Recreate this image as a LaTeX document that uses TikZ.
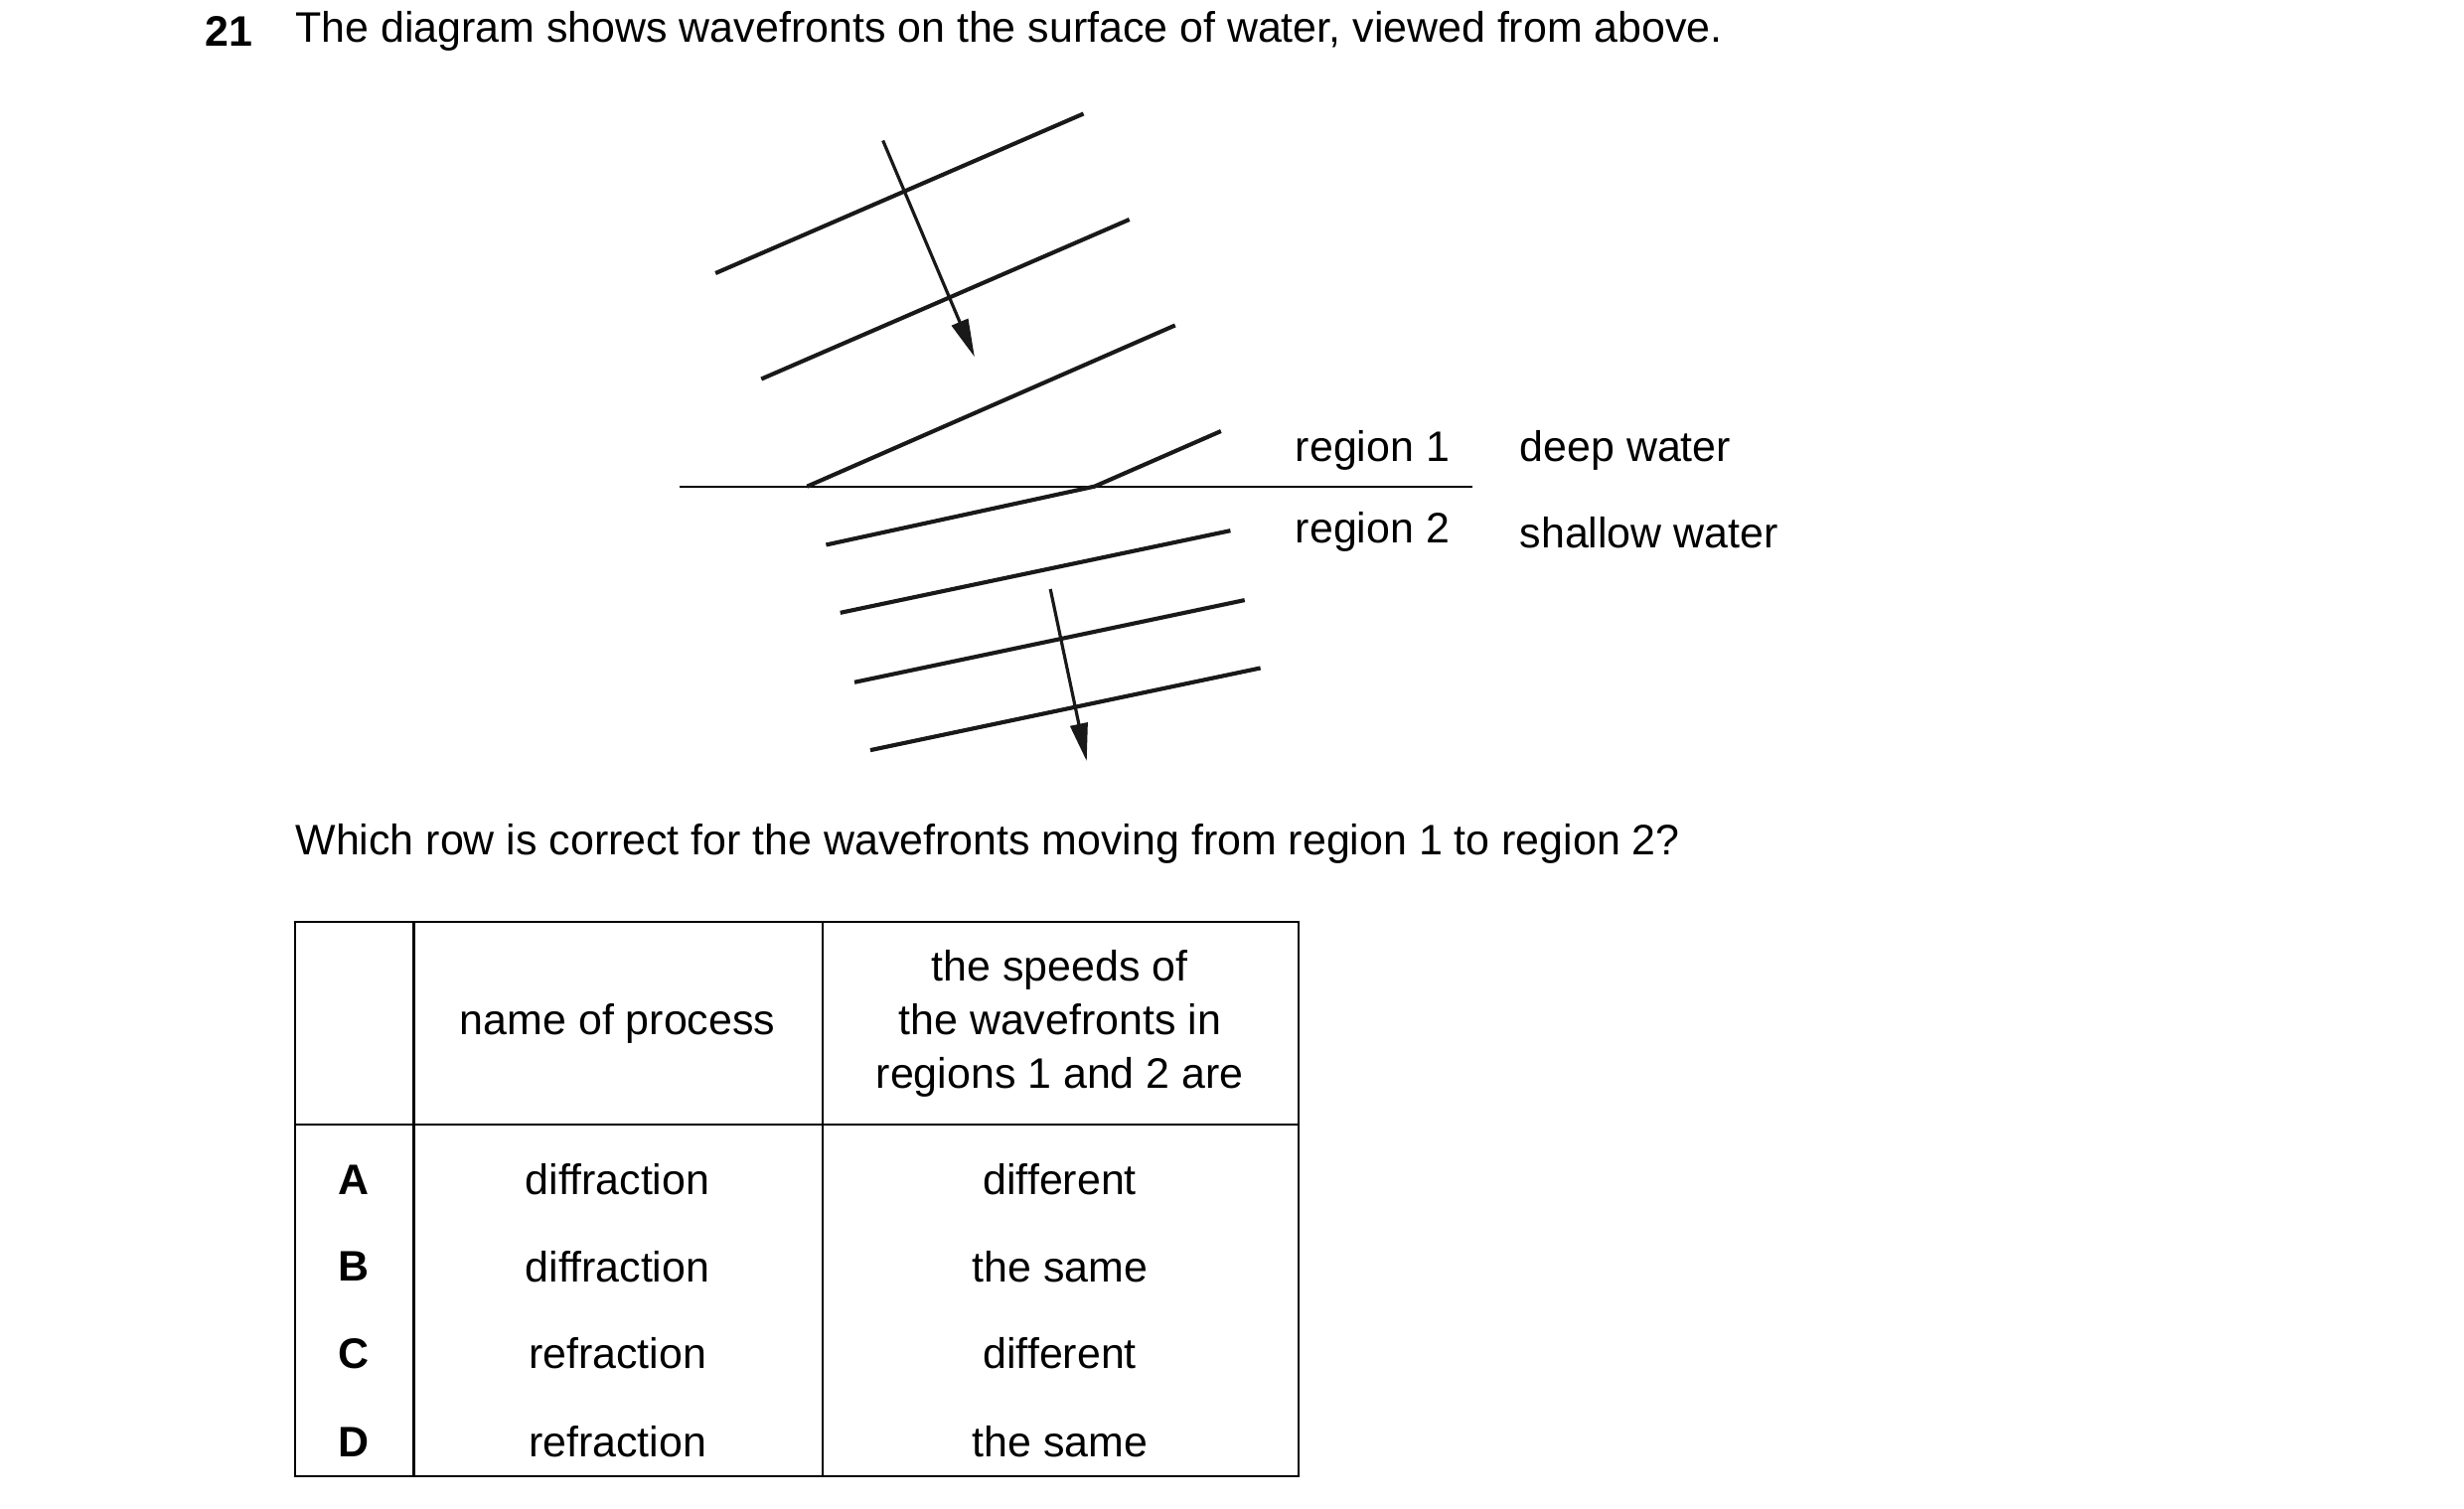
\documentclass[tikz,border=0pt]{standalone}
\usepackage{fontspec}
\setmainfont{Liberation Sans}
\usetikzlibrary{arrows.meta}
\begin{document}
\begin{tikzpicture}[x=1pt,y=-1pt,
  wave/.style={line width=2.6pt,black!90},
  ray/.style={line width=2pt,black!90,-{Triangle[length=24pt,width=11pt]}},
  txt/.style={font=\fontsize{27}{32}\selectfont,inner sep=0pt},
  tb/.style={line width=1.3pt}]
\useasboundingbox (0,0) rectangle (1560,955);
\node[txt,anchor=west,font=\fontsize{27}{32}\selectfont\bfseries] (n) at (130,20) {21};
\node[txt,anchor=west] (t) at (187,20) {The diagram shows wavefronts on the surface of water, viewed from above.};
% wavefronts
\coordinate (a1) at (453,173); \coordinate (b1) at (686,72);
\coordinate (a2) at (482,240); \coordinate (b2) at (715,139);
\coordinate (a3) at (511,308); \coordinate (b3) at (744,206);
\coordinate (k) at (693,308); \coordinate (b4) at (773,273); \coordinate (a4) at (523,345);
\coordinate (a5) at (532,388); \coordinate (b5) at (779,336);
\coordinate (a6) at (541,432); \coordinate (b6) at (788,380);
\coordinate (a7) at (551,475); \coordinate (b7) at (798,423);
\coordinate (l) at (430,308); \coordinate (r) at (932,308);
\draw[line width=1.3pt] (l) -- (r);
\draw[wave] (a1)--(b1); \draw[wave] (a2)--(b2); \draw[wave] (a3)--(b3);
\draw[wave] (a4)--(k)--(b4);
\draw[wave] (a5)--(b5); \draw[wave] (a6)--(b6); \draw[wave] (a7)--(b7);
\coordinate (p1) at (559,89); \coordinate (q1) at (617,226);
\coordinate (p2) at (665,373); \coordinate (q2) at (688,482);
\draw[ray] (p1)--(q1); \draw[ray] (p2)--(q2);
\node[txt,anchor=west] (r1) at (820,285) {region 1};
\node[txt,anchor=west] (d1) at (962,285) {deep water};
\node[txt,anchor=west] (r2) at (820,337) {region 2};
\node[txt,anchor=west] (d2) at (962,337) {shallow water};
\node[txt,anchor=west] (qq) at (187,534) {Which row is correct for the wavefronts moving from region 1 to region 2?};
% table
\draw[tb] (187,584) rectangle (822,935);
\draw[tb] (187,712) -- (822,712);
\draw[tb] (262,584) -- (262,935);
\draw[tb] (521,584) -- (521,935);
\node[txt] (h1) at (391,648) {name of process};
\node[txt,align=center,font=\fontsize{27}{34}\selectfont] (h2) at (671,648) {the speeds of\\the wavefronts in\\regions 1 and 2 are};
\foreach \L/\P/\S/\y in {A/diffraction/different/747,B/diffraction/the same/802,C/refraction/different/857,D/refraction/the same/913}{
  \node[txt,font=\fontsize{27}{32}\selectfont\bfseries] (l\L) at (224,\y) {\L};
  \node[txt] (p\L) at (391,\y) {\P};
  \node[txt] (s\L) at (671,\y) {\S};
}
\end{tikzpicture}
\end{document}
